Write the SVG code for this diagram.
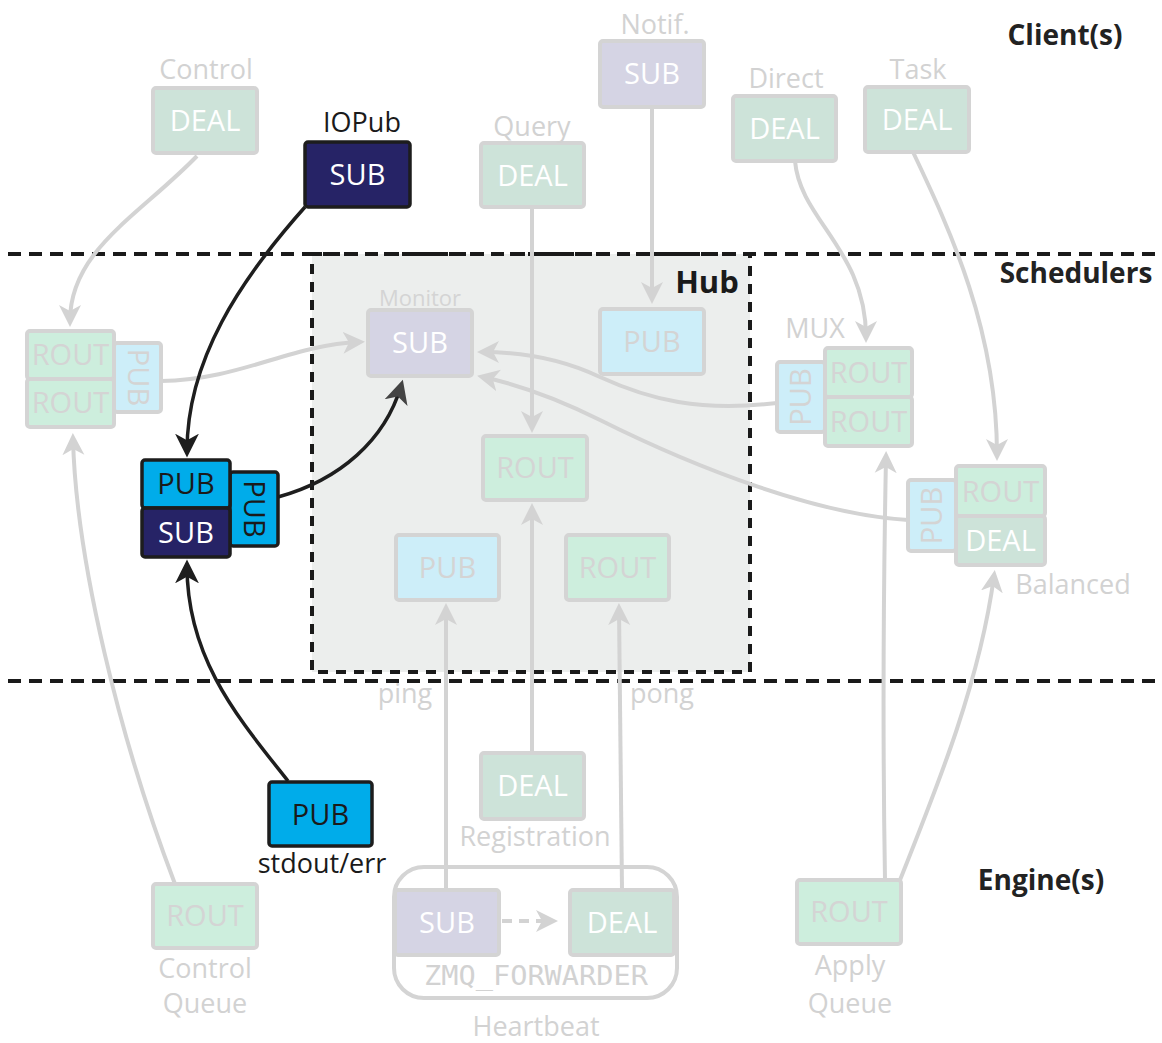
<svg xmlns="http://www.w3.org/2000/svg" width="1162" height="1043" viewBox="0 0 1162 1043">
<defs>
<style>
text{font-family:"Open Sans","Noto Sans","Liberation Sans",sans-serif;text-anchor:middle}
.box{stroke:#d4d4d4;stroke-width:4}
.deal{fill:#cde3d9}
.rout{fill:#cdeedd}
.sub{fill:#d5d4e4}
.pub{fill:#cdeef9}
.hbox{stroke:#1d1d1d;stroke-width:3.5}
.hpub{fill:#00acea}
.hsub{fill:#262366}
.t{font-size:29px}
.tw{fill:#ffffff}
.tg{fill:#d4d4d4}
.tk{fill:#1a1a1a}
.lbl{font-size:27px;fill:#d2d2d2}
.lblk{font-size:27px;fill:#1a1a1a}
.hd{font-size:28px;font-weight:bold;fill:#222222}
.c{fill:none;stroke:#d3d3d3;stroke-width:4}
.cd{fill:none;stroke:#1e1e1e;stroke-width:3.5}
.dash{fill:none;stroke:#1a1a1a;stroke-width:4;stroke-dasharray:13 8}
</style>
<marker id="ag" viewBox="0 0 24 24" markerWidth="24" markerHeight="24" refX="16" refY="12" orient="auto" markerUnits="userSpaceOnUse"><path d="M0,1 L22,12 L0,23 L6,12 z" fill="#d3d3d3"/></marker>
<marker id="ad" viewBox="0 0 24 24" markerWidth="26" markerHeight="26" refX="16" refY="12" orient="auto" markerUnits="userSpaceOnUse"><path d="M0,1 L22,12 L0,23 L6,12 z" fill="#1e1e1e"/></marker>
<marker id="am" viewBox="0 0 24 24" markerWidth="26" markerHeight="26" refX="16" refY="12" orient="auto" markerUnits="userSpaceOnUse"><path d="M0,1 L22,12 L0,23 L6,12 z" fill="#444444"/></marker>
</defs>

<g id="hub">
<rect x="312" y="254" width="438" height="418" fill="#eceeed" stroke="#1a1a1a" stroke-width="4" stroke-dasharray="10 8"/>
<text x="707" y="293" style="font-size:31px;font-weight:bold;fill:#1a1a1a">Hub</text>
</g>

<g id="tiers">
<line x1="8" y1="254" x2="1162" y2="254" class="dash"/>
<line x1="8" y1="681" x2="1162" y2="681" class="dash"/>
<text x="1065" y="45" class="hd">Client(s)</text>
<text x="1076" y="283" class="hd">Schedulers</text>
<text x="1041" y="890" class="hd">Engine(s)</text>
</g>

<g id="connectors">
<path class="c" d="M197,156 C140,215 70,250 70,321" marker-end="url(#ag)"/>
<path class="c" d="M175,884 C120,740 76,560 73,439" marker-end="url(#ag)"/>
<path class="c" d="M161,381 C240,380 290,345 359,342" marker-end="url(#ag)"/>
<path class="c" d="M532,207 L532,427" marker-end="url(#ag)"/>
<path class="c" d="M652,107 L652,298" marker-end="url(#ag)"/>
<path class="c" d="M795,161 C800,220 866,250 866,337" marker-end="url(#ag)"/>
<path class="c" d="M913,152 C950,230 997,330 997,455" marker-end="url(#ag)"/>
<path class="c" d="M777,403 C700,412 650,400 600,377 C560,358 520,352 483,352" marker-end="url(#ag)"/>
<path class="c" d="M908,520 C820,515 700,470 600,420 C560,400 520,385 483,377" marker-end="url(#ag)"/>
<path class="c" d="M532,753 L532,509" marker-end="url(#ag)"/>
<path class="c" d="M446,890 L446,609" marker-end="url(#ag)"/>
<path class="c" d="M622,890 L619,609" marker-end="url(#ag)"/>
<path class="c" d="M885,880 C882,700 884,560 886,457" marker-end="url(#ag)"/>
<path class="c" d="M900,880 C940,780 980,680 994,576" marker-end="url(#ag)"/>
<path class="c" d="M502,921 L552,921" stroke-dasharray="10 7" marker-end="url(#ag)"/>
<path class="cd" d="M305,207 C240,280 187,360 187,451" marker-end="url(#ad)"/>
<path class="cd" d="M288,781 C240,720 187,660 187,566" marker-end="url(#ad)"/>
<path class="cd" d="M278,497 C340,480 385,440 401,386" stroke="#444444" marker-end="url(#am)"/>
</g>

<g id="control-deal">
<rect x="153" y="88" width="104" height="65" rx="3" class="box deal"/>
<text x="205" y="131" class="t tw">DEAL</text>
<text x="206" y="79" class="lbl">Control</text>
</g>
<g id="iopub-sub">
<rect x="305" y="142" width="105" height="65" rx="3" class="hbox hsub"/>
<text x="357.5" y="185" class="t tw">SUB</text>
<text x="362" y="132" class="lblk">IOPub</text>
</g>
<g id="query-deal">
<rect x="481" y="143" width="103" height="64" rx="3" class="box deal"/>
<text x="532.5" y="185.5" class="t tw">DEAL</text>
<text x="532" y="136" class="lbl">Query</text>
</g>
<g id="notif-sub">
<rect x="600" y="41" width="104" height="66" rx="3" class="box sub"/>
<text x="652" y="84" class="t tw">SUB</text>
<text x="655" y="34" class="lbl">Notif.</text>
</g>
<g id="direct-deal">
<rect x="733" y="96" width="103" height="65" rx="3" class="box deal"/>
<text x="784.5" y="139" class="t tw">DEAL</text>
<text x="786" y="88" class="lbl">Direct</text>
</g>
<g id="task-deal">
<rect x="865" y="87" width="104" height="65" rx="3" class="box deal"/>
<text x="917" y="130" class="t tw">DEAL</text>
<text x="918" y="79" class="lbl">Task</text>
</g>

<g id="control-sched">
<rect x="114" y="343" width="47" height="69" rx="3" class="box pub"/>
<text transform="translate(137.5,377.5) rotate(90)" y="10" class="t tg">PUB</text>
<rect x="27" y="331" width="87" height="48" rx="3" class="box rout"/>
<rect x="27" y="379" width="87" height="48" rx="3" class="box rout"/>
<text x="70.5" y="365" class="t tg">ROUT</text>
<text x="70.5" y="413" class="t tg">ROUT</text>
</g>

<g id="iopub-sched">
<rect x="230" y="472" width="48" height="74" rx="3" class="hbox hpub"/>
<text transform="translate(254,509) rotate(90)" y="10" class="t tk">PUB</text>
<rect x="142" y="460" width="88" height="48" rx="3" class="hbox hpub"/>
<rect x="142" y="508" width="88" height="49" rx="3" class="hbox hsub"/>
<text x="186" y="494" class="t tk">PUB</text>
<text x="186" y="543" class="t tw">SUB</text>
</g>

<g id="monitor-sub">
<rect x="368" y="310" width="104" height="66" rx="3" class="box sub"/>
<text x="420" y="353" class="t tw">SUB</text>
<text x="420" y="306" style="font-size:22px;fill:#d4d4d4">Monitor</text>
</g>
<g id="hub-pub">
<rect x="600" y="309" width="104" height="65" rx="3" class="box pub"/>
<text x="652" y="352" class="t tg">PUB</text>
</g>
<g id="hub-rout">
<rect x="483" y="436" width="104" height="64" rx="3" class="box rout"/>
<text x="535" y="478" class="t tg">ROUT</text>
</g>
<g id="hub-ping-pub">
<rect x="396" y="535" width="103" height="65" rx="3" class="box pub"/>
<text x="447.5" y="578" class="t tg">PUB</text>
</g>
<g id="hub-pong-rout">
<rect x="566" y="535" width="103" height="65" rx="3" class="box rout"/>
<text x="617.5" y="578" class="t tg">ROUT</text>
</g>

<g id="mux">
<rect x="777" y="362" width="48" height="70" rx="3" class="box pub"/>
<text transform="translate(801,397) rotate(-90)" y="10" class="t tg">PUB</text>
<rect x="825" y="348" width="87" height="49" rx="3" class="box rout"/>
<rect x="825" y="397" width="87" height="49" rx="3" class="box rout"/>
<text x="868.5" y="383" class="t tg">ROUT</text>
<text x="868.5" y="432" class="t tg">ROUT</text>
<text x="815" y="338" class="lbl">MUX</text>
</g>

<g id="balanced">
<rect x="908" y="480" width="48" height="71" rx="3" class="box pub"/>
<text transform="translate(932,515.5) rotate(-90)" y="10" class="t tg">PUB</text>
<rect x="956" y="466" width="89" height="50" rx="3" class="box rout"/>
<rect x="956" y="516" width="89" height="49" rx="3" class="box deal"/>
<text x="1000.5" y="502" class="t tg">ROUT</text>
<text x="1000.5" y="551" class="t tw">DEAL</text>
<text x="1073" y="594" class="lbl">Balanced</text>
</g>

<g id="ping-pong-labels">
<text x="405" y="703" class="lbl">ping</text>
<text x="662" y="703" class="lbl">pong</text>
</g>

<g id="registration-deal">
<rect x="481" y="753" width="103" height="66" rx="3" class="box deal"/>
<text x="532.5" y="796" class="t tw">DEAL</text>
<text x="535" y="846" class="lbl">Registration</text>
</g>

<g id="stdout-pub">
<rect x="269" y="782" width="103" height="64" rx="3" class="hbox hpub"/>
<text x="320.5" y="825" class="t tk">PUB</text>
<text x="322" y="873" class="lblk">stdout/err</text>
</g>

<g id="heartbeat">
<rect x="394" y="867" width="283" height="131" rx="30" fill="none" stroke="#d4d4d4" stroke-width="4"/>
<rect x="395" y="890" width="104" height="65" rx="3" class="box sub"/>
<text x="447" y="933" class="t tw">SUB</text>
<rect x="570" y="890" width="104" height="65" rx="3" class="box deal"/>
<text x="622" y="933" class="t tw">DEAL</text>
<text x="536" y="985" style="font-family:'DejaVu Sans Mono','Liberation Mono',monospace;font-size:27px;fill:#d2d2d2" textLength="224" lengthAdjust="spacingAndGlyphs">ZMQ_FORWARDER</text>
<text x="536" y="1036" class="lbl">Heartbeat</text>
</g>

<g id="control-queue">
<rect x="153" y="884" width="104" height="64" rx="3" class="box rout"/>
<text x="205" y="926" class="t tg">ROUT</text>
<text x="205" y="978" class="lbl">Control</text>
<text x="205" y="1013" class="lbl">Queue</text>
</g>

<g id="apply-queue">
<rect x="797" y="880" width="104" height="64" rx="3" class="box rout"/>
<text x="849" y="922" class="t tg">ROUT</text>
<text x="850" y="975" class="lbl">Apply</text>
<text x="850" y="1013" class="lbl">Queue</text>
</g>
</svg>
